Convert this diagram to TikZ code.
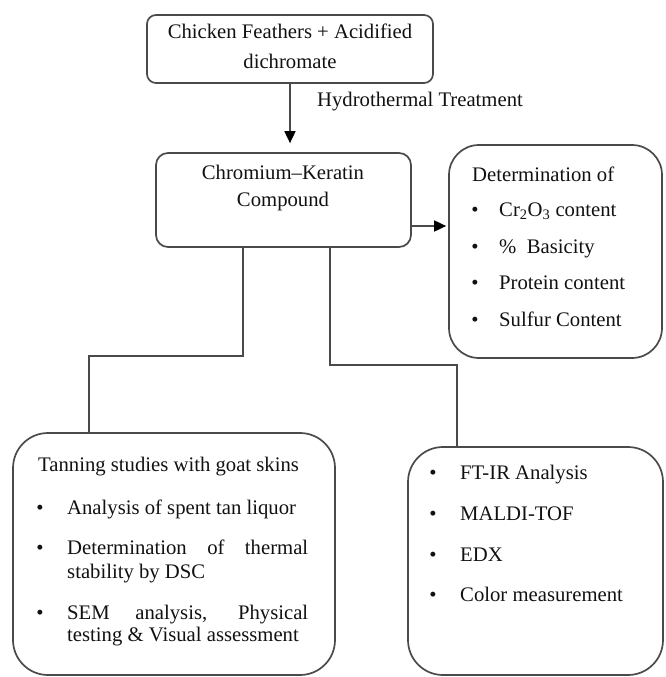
\documentclass[tikz,border=0pt]{standalone}
\usepackage{fontspec}
\setmainfont{Liberation Serif}
\usetikzlibrary{arrows.meta,calc}
\definecolor{linec}{HTML}{4A4A4A}
\definecolor{txtc}{HTML}{111111}
\begin{document}
\begin{tikzpicture}[x=1pt,y=-1pt,
  box/.style={draw=linec,line width=1.7pt,inner sep=0pt},
  lbl/.style={anchor=base,inner sep=0pt,text=txtc,font=\fontsize{20.7}{24}\selectfont},
  lblw/.style={lbl,anchor=base west},
  conn/.style={draw=linec,line width=1.7pt},
  arr/.style={conn,-{Triangle[length=12pt,width=11pt,color=black]}}]
\useasboundingbox (0,0) rectangle (665,677);
% boxes
\node[box,rounded corners=9pt,minimum width=286pt,minimum height=68pt] (top) at (290,49) {};
\node[box,rounded corners=12pt,minimum width=255pt,minimum height=94pt] (mid) at (283.5,200) {};
\node[box,rounded corners=30pt,minimum width=213pt,minimum height=213pt] (det) at (555.5,251.5) {};
\node[box,rounded corners=35pt,minimum width=322pt,minimum height=242pt] (tan) at (174,554) {};
\node[box,rounded corners=35pt,minimum width=255pt,minimum height=228pt] (ana) at (535.5,561) {};
% texts
\node[lbl] (t1) at (290,39) {Chicken Feathers + Acidified};
\node[lbl] (t2) at (290,68) {dichromate};
\node[lblw] (ht) at (317,106) {Hydrothermal Treatment};
\node[lbl] (m1) at (283,179) {Chromium–Keratin};
\node[lbl] (m2) at (283,206) {Compound};
\node[lblw] (d0) at (472,181) {Determination of};
\node[lbl] (db1) at (475,216) {\textbullet};
\node[lblw] (d1) at (499,216) {Cr\textsubscript{2}O\textsubscript{3} content};
\node[lbl] (db2) at (475,253) {\textbullet};
\node[lblw] (d2) at (499,253) {\%\ \ Basicity};
\node[lbl] (db3) at (475,289) {\textbullet};
\node[lblw] (d3) at (499,289) {Protein content};
\node[lbl] (db4) at (475,326) {\textbullet};
\node[lblw] (d4) at (499,326) {Sulfur Content};
\node[lblw] (s0) at (38,471) {Tanning studies with goat skins};
\node[lbl] (sb1) at (40,514) {\textbullet};
\node[lblw] (s1) at (67,514) {Analysis of spent tan liquor};
\node[lbl] (sb2) at (40,554) {\textbullet};
\node[lblw] (s2a) at (67,554) {\makebox[241pt][s]{Determination of thermal}};
\node[lblw] (s2b) at (67,578) {stability by DSC};
\node[lbl] (sb3) at (40,619) {\textbullet};
\node[lblw] (s3a) at (67,619) {\makebox[241pt][s]{SEM analysis, Physical}};
\node[lblw] (s3b) at (67,641) {testing \& Visual assessment};
\node[lbl] (ab1) at (433,479) {\textbullet};
\node[lblw] (a1) at (460,479) {FT-IR Analysis};
\node[lbl] (ab2) at (433,520) {\textbullet};
\node[lblw] (a2) at (460,520) {MALDI-TOF};
\node[lbl] (ab3) at (433,561) {\textbullet};
\node[lblw] (a3) at (460,561) {EDX};
\node[lbl] (ab4) at (433,601) {\textbullet};
\node[lblw] (a4) at (460,601) {Color measurement};
% connectors
\draw[arr,shorten >=9pt] (top.south) -- (top.south |- mid.north);
\coordinate (ae) at ($(mid.east)+(0,26)$);
\draw[arr,shorten >=2pt] (ae) -- (ae -| det.west);
\draw[conn] ($(mid.south)+(-40.5,0)$) -- ++(0,108) -| ($(tan.north)+(-85,0)$);
\draw[conn] ($(mid.south)+(46.5,0)$) -- ++(0,117) -| ($(ana.north)+(-78.5,0)$);
\end{tikzpicture}
\end{document}
